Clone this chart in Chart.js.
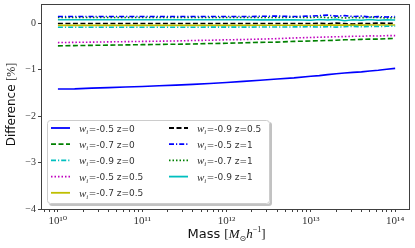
<!DOCTYPE html>
<html><head><meta charset="utf-8">
<script src="https://cdn.jsdelivr.net/npm/chart.js@4/dist/chart.umd.min.js"></script>
<style>html,body{margin:0;padding:0;background:#fff}#wrap{width:415px;height:248px}</style>
</head><body><div id="wrap"><canvas id="c" width="415" height="248"></canvas></div>
<script>
const masses = [1.00e10,1.58e10,2.51e10,3.98e10,6.31e10,1.00e11,1.58e11,2.51e11,3.98e11,6.31e11,1.00e12,1.58e12,2.51e12,3.98e12,6.31e12,1.00e13,1.26e13,1.58e13,2.00e13,2.51e13,3.16e13,3.98e13,5.01e13,6.31e13,7.94e13,1.00e14];
const wm05z0  = [-1.42,-1.415,-1.40,-1.39,-1.375,-1.365,-1.35,-1.335,-1.32,-1.30,-1.28,-1.255,-1.23,-1.205,-1.18,-1.145,-1.13,-1.11,-1.09,-1.075,-1.06,-1.05,-1.03,-1.015,-0.995,-0.975];
const wm07z0  = [-0.49,-0.485,-0.48,-0.475,-0.47,-0.465,-0.46,-0.455,-0.45,-0.44,-0.435,-0.425,-0.415,-0.41,-0.395,-0.385,-0.38,-0.375,-0.37,-0.36,-0.36,-0.35,-0.345,-0.345,-0.335,-0.33];
const wm09z0  = [-0.09,-0.09,-0.09,-0.09,-0.09,-0.09,-0.09,-0.09,-0.09,-0.088,-0.088,-0.087,-0.086,-0.085,-0.083,-0.08,-0.085,-0.078,-0.088,-0.08,-0.07,-0.08,-0.072,-0.075,-0.07,-0.065];
const wm05z05 = [-0.42,-0.415,-0.41,-0.405,-0.40,-0.395,-0.39,-0.385,-0.375,-0.37,-0.36,-0.355,-0.345,-0.335,-0.32,-0.31,-0.305,-0.30,-0.295,-0.29,-0.285,-0.285,-0.275,-0.28,-0.27,-0.27];
const wm07z05 = [-0.05,-0.05,-0.05,-0.05,-0.05,-0.05,-0.05,-0.05,-0.05,-0.05,-0.05,-0.05,-0.048,-0.048,-0.047,-0.046,-0.046,-0.045,-0.045,-0.045,-0.044,-0.044,-0.043,-0.043,-0.042,-0.042];
const wm09z05 = [-0.01,-0.01,-0.01,-0.01,-0.01,-0.01,-0.01,-0.01,-0.01,-0.01,-0.01,-0.01,-0.01,-0.008,-0.008,-0.01,-0.005,-0.015,0.0,-0.01,-0.02,-0.005,-0.012,0.0,-0.008,-0.005];
const wm05z1  = [0.14,0.14,0.14,0.14,0.14,0.14,0.14,0.14,0.14,0.14,0.14,0.14,0.145,0.15,0.14,0.15,0.16,0.17,0.15,0.16,0.14,0.15,0.13,0.14,0.13,0.14];
const wm07z1  = [0.12,0.12,0.12,0.12,0.12,0.12,0.12,0.12,0.12,0.12,0.12,0.12,0.12,0.12,0.125,0.12,0.13,0.115,0.125,0.11,0.12,0.115,0.125,0.12,0.11,0.115];
const wm09z1  = [0.07,0.07,0.07,0.07,0.07,0.07,0.07,0.07,0.07,0.07,0.07,0.07,0.068,0.068,0.07,0.06,0.075,0.065,0.08,0.05,0.07,0.06,0.075,0.06,0.07,0.065];
const seriesLabels = ['-0.5 z=0','-0.7 z=0','-0.9 z=0','-0.5 z=0.5','-0.7 z=0.5','-0.9 z=0.5','-0.5 z=1','-0.7 z=1','-0.9 z=1'];
const xTickValues = [1e10,1e11,1e12,1e13,1e14];
const yTickValues = [-4,-3,-2,-1,0];

const sup = {'0':'⁰','1':'¹','2':'²','3':'³','4':'⁴','5':'⁵','6':'⁶','7':'⁷','8':'⁸','9':'⁹'};
const styles = [
  {c:'#0000ff',d:[]},{c:'#008000',d:[5,2.5]},{c:'#00bfbf',d:[5,2,1.2,2]},
  {c:'#bf00bf',d:[1.5,2]},{c:'#bfbf00',d:[]},{c:'#000000',d:[5,2.5]},
  {c:'#0000ff',d:[5,2,1.2,2]},{c:'#008000',d:[1.5,2]},{c:'#00bfbf',d:[]}
];
const vals = [wm05z0,wm07z0,wm09z0,wm05z05,wm07z05,wm09z05,wm05z1,wm07z1,wm09z1];
const datasets = vals.map((v,i)=>({
  label:seriesLabels[i],
  data:masses.map((m,j)=>({x:m,y:v[j]})),
  borderColor:styles[i].c, borderDash:styles[i].d, borderWidth:1.6,
  pointRadius:0, fill:false, tension:0
}));

const decor = {
  id:'decor',
  afterDraw(chart){
    const ctx = chart.ctx, a = chart.chartArea;
    ctx.save();
    ctx.strokeStyle='#404040'; ctx.lineWidth=1;
    ctx.strokeRect(Math.round(a.left)+0.5, Math.round(a.top)+0.5, Math.round(a.right-a.left)-1, Math.round(a.bottom-a.top));
    // legend
    const bx=47, by=120, bw=223, bh=84;
    ctx.fillStyle='rgba(120,120,120,0.45)';
    roundRect(ctx,bx+2,by+2,bw,bh,3); ctx.fill();
    ctx.fillStyle='#ffffff'; roundRect(ctx,bx,by,bw,bh,3); ctx.fill();
    ctx.strokeStyle='#cccccc'; ctx.lineWidth=1; roundRect(ctx,bx+0.5,by+0.5,bw-1,bh-1,3); ctx.stroke();
    const ds = chart.data.datasets;
    ds.forEach((d,i)=>{
      const col = i<5?0:1, row = i<5?i:i-5;
      const y = 128 + row*16.2;
      const lx = col===0?51:169, tx = col===0?79:197;
      ctx.strokeStyle=d.borderColor; ctx.lineWidth=1.8; ctx.setLineDash(d.borderDash);
      ctx.beginPath(); ctx.moveTo(lx,y); ctx.lineTo(lx+19,y); ctx.stroke(); ctx.setLineDash([]);
      ctx.fillStyle='#333'; ctx.textBaseline='alphabetic'; ctx.textAlign='left';
      ctx.font='italic 11px "Liberation Serif"'; ctx.fillText('w',tx,y+4);
      let w = ctx.measureText('w').width;
      ctx.font='italic 7px "Liberation Serif"'; ctx.fillText('i',tx+w,y+6);
      w += ctx.measureText('i').width+0.5;
      ctx.font='9px "DejaVu Sans"'; ctx.fillText('='+d.label,tx+w,y+3.5);
    });
    // x title
    ctx.fillStyle='#111';
    const parts=[['Mass ','13px "DejaVu Sans"',0],['[','13px "Liberation Serif"',0],['M','italic 13px "Liberation Serif"',0],['⊙','8px "DejaVu Sans"',3],['h','italic 13px "Liberation Serif"',0],['−1','8px "Liberation Serif"',-6],[']','13px "Liberation Serif"',0]];
    let total=0; parts.forEach(p=>{ctx.font=p[1]; total+=ctx.measureText(p[0]).width;});
    let x=(a.left+a.right)/2-total/2+1, yb=238;
    parts.forEach(p=>{ctx.font=p[1]; ctx.fillText(p[0],x,yb+p[2]); x+=ctx.measureText(p[0]).width;});
    // y title
    ctx.translate(15,(a.top+a.bottom)/2-2); ctx.rotate(-Math.PI/2);
    const yp=[['Difference ','12px "DejaVu Sans"'],['[%]','12px "Liberation Serif"']];
    total=0; yp.forEach(p=>{ctx.font=p[1]; total+=ctx.measureText(p[0]).width;});
    x=-total/2; yp.forEach(p=>{ctx.font=p[1]; ctx.fillText(p[0],x,0); x+=ctx.measureText(p[0]).width;});
    ctx.restore();
  }
};
function roundRect(ctx,x,y,w,h,r){ctx.beginPath();ctx.moveTo(x+r,y);ctx.lineTo(x+w-r,y);ctx.quadraticCurveTo(x+w,y,x+w,y+r);ctx.lineTo(x+w,y+h-r);ctx.quadraticCurveTo(x+w,y+h,x+w-r,y+h);ctx.lineTo(x+r,y+h);ctx.quadraticCurveTo(x,y+h,x,y+h-r);ctx.lineTo(x,y+r);ctx.quadraticCurveTo(x,y,x+r,y);ctx.closePath();}

new Chart(document.getElementById('c'),{
  type:'line',
  data:{datasets},
  options:{
    responsive:false, animation:false, devicePixelRatio:1,
    layout:{padding:{left:0,right:5,top:4,bottom:0}},
    plugins:{legend:{display:false},tooltip:{enabled:false}},
    scales:{
      x:{type:'logarithmic',min:6.3e9,max:1.5e14,
        afterBuildTicks(s){
          const t=[]; for(let e=9;e<=14;e++){for(let k=1;k<=9;k++){const v=k*Math.pow(10,e); if(v>=s.min&&v<=s.max) t.push({value:v});}}
          s.ticks=t;
        },
        afterFit(s){s.height=39; s.paddingLeft=0; s.paddingRight=0;},
        grid:{display:true,drawOnChartArea:false,drawTicks:true,tickLength:3,color:'#404040',tickColor:'#404040'},
        border:{display:false},
        ticks:{autoSkip:false,maxRotation:0,padding:3,color:'#333',font:{family:'"Liberation Serif","DejaVu Serif"',size:11},
          callback(v){const e=Math.log10(v); if(Math.abs(e-Math.round(e))<1e-6 && xTickValues.includes(Math.pow(10,Math.round(e)))) return '10'+String(Math.round(e)).split('').map(c=>sup[c]).join(''); return '';}}
      },
      y:{type:'linear',min:-4,max:0.41,
        afterBuildTicks(s){s.ticks=yTickValues.map(v=>({value:v}));},
        afterFit(s){s.width=41; s.paddingTop=0; s.paddingBottom=0;},
        grid:{display:true,drawOnChartArea:false,drawTicks:true,tickLength:3,color:'#404040',tickColor:'#404040'},
        border:{display:false},
        ticks:{padding:2,color:'#333',font:{family:'"Liberation Serif","DejaVu Serif"',size:10},
          callback(v){return v<0?'−'+Math.abs(v):String(v);}}
      }
    }
  },
  plugins:[decor]
});
</script></body></html>
